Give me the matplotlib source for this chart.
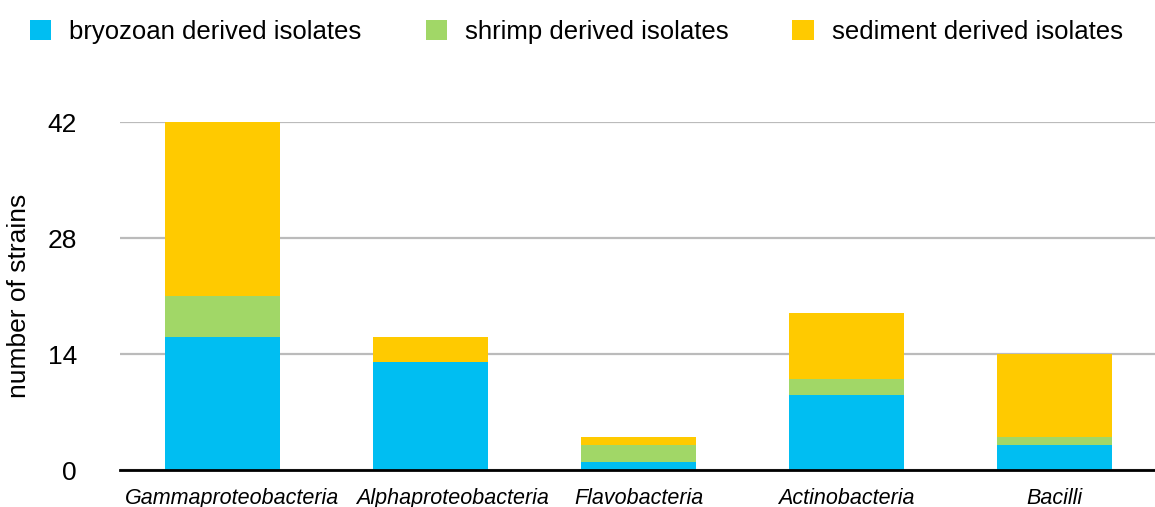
import matplotlib
matplotlib.use("Agg")
import matplotlib.pyplot as plt
import matplotlib.transforms as mtransforms
import numpy as np

plt.rcParams.update({"font.family": ["Liberation Sans", "DejaVu Sans"]})

categories = ["Gammaproteobacteria", "Alphaproteobacteria", "Flavobacteria",
              "Actinobacteria", "Bacilli"]
bryozoan = [16, 13, 1, 9, 3]
shrimp = [5, 0, 2, 2, 1]
sediment = [21, 3, 1, 8, 10]
series_names = ["bryozoan derived isolates", "shrimp derived isolates",
                "sediment derived isolates"]
colors = ["#00BEF2", "#A1D767", "#FFCA00"]
yticks = [0, 14, 28, 42]

fig = plt.figure(figsize=(11.55, 5.07), dpi=100)
ax = fig.add_axes([120 / 1155, 1 - 470 / 507, 1 - 120 / 1155, (470 - 122) / 507])

x = np.arange(len(categories))
bottom = np.zeros(len(categories))
for vals, name, c in zip([bryozoan, shrimp, sediment], series_names, colors):
    ax.bar(x, vals, width=0.553, bottom=bottom, color=c, label=name, zorder=3)
    bottom += np.array(vals)

ax.set_xlim(-0.493, 4.483)
ax.set_ylim(0, 42)
ax.set_yticks(yticks)
ax.set_yticklabels([str(t) for t in yticks], fontsize=19)
ax.yaxis.grid(True, color="#bbbbbb", lw=1.6, zorder=0)
ax.set_axisbelow(True)
ax.tick_params(axis="y", length=0, pad=31)
ax.tick_params(axis="x", length=0, pad=13)
ax.set_xticks(x)
ax.set_xticklabels(categories, fontsize=15.5, style="italic")
# the two long labels sit slightly right of their bars in the original
for lab, dx in zip(ax.get_xticklabels()[:2], [10, 22]):
    lab.set_transform(lab.get_transform() +
                      mtransforms.ScaledTranslation(dx / 100, 0, fig.dpi_scale_trans))
ax.set_ylabel("number of strains", fontsize=19, labelpad=12)
for s in ["top", "right", "left"]:
    ax.spines[s].set_visible(False)
ax.spines["bottom"].set_linewidth(2)
ax.spines["bottom"].set_zorder(4)

fig.legend(loc="center left", bbox_to_anchor=(30 / 1155, 1 - 32 / 507), ncol=3,
           frameon=False, fontsize=18.5, handlelength=0.82, handleheight=0.82,
           handletextpad=0.7, columnspacing=2.5, borderpad=0, borderaxespad=0)

fig.savefig("out.png", dpi=100)
